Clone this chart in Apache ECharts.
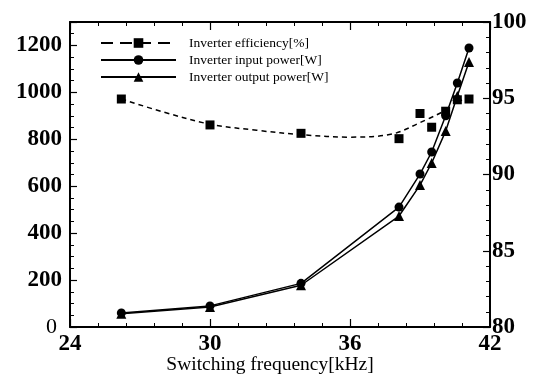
<!DOCTYPE html>
<html>
<head>
<meta charset="utf-8">
<script src="https://cdn.jsdelivr.net/npm/echarts@6/dist/echarts.min.js"></script>
<style>
  html, body { margin: 0; padding: 0; background: #fff; }
  #chart { width: 539px; height: 376px; }
</style>
</head>
<body>
<div id="chart"></div>
<script>
// switching frequency [kHz] of each measured point
const freq = [26.2, 30, 33.9, 38.1, 39, 39.5, 40.1, 40.6, 41.1];
const inputPower = [60, 90, 186, 511, 652, 746, 900, 1040, 1189];
const outputPower = [56, 85, 178, 473, 605, 699, 835, 985, 1130];
const efficiency = [94.95, 93.25, 92.7, 92.35, 94.0, 93.1, 94.15, 94.9, 94.95];

// dashed trend curve through the efficiency points
const trendFreq = [26.2, 28, 30, 32, 34, 36, 37.8, 39, 40.1];
const trendEff = [94.95, 94.1, 93.3, 92.9, 92.6, 92.45, 92.65, 93.4, 94.2];

const names = ['Inverter efficiency[%]', 'Inverter input power[W]', 'Inverter output power[W]'];

const serif = "'Liberation Serif', 'Times New Roman', serif";

const pairs = (xs, ys) => xs.map((x, i) => [x, ys[i]]);

const chart = echarts.init(document.getElementById('chart'), null, { renderer: 'canvas' });

const xAxisBase = {
  type: 'value',
  min: 24,
  max: 42,
  interval: 6,
  axisLine: { lineStyle: { color: '#000', width: 2 } },
  axisTick: { inside: true, length: 8, lineStyle: { color: '#000', width: 1.2 } },
  minorTick: { show: true, splitNumber: 5, length: 4, lineStyle: { color: '#000', width: 1 } },
  splitLine: { show: false },
};

const option = {
  animation: false,
  backgroundColor: '#fff',
  grid: { left: 70, right: 49, top: 22, bottom: 49, outerBoundsMode: 'none' },
  legend: {
    orient: 'vertical',
    left: 95,
    top: 31,
    itemWidth: 75,
    itemHeight: 12,
    itemGap: 3,
    textStyle: { fontFamily: serif, fontSize: 13.5, color: '#000', padding: [0, 0, 0, 8] },
    data: [
      { name: names[0], lineStyle: { type: [12, 7], width: 2 } },
      { name: names[1], lineStyle: { width: 2 } },
      { name: names[2], lineStyle: { width: 2 } },
    ],
  },
  xAxis: [
    Object.assign({}, xAxisBase, {
      position: 'bottom',
      name: 'Switching frequency[kHz]',
      nameLocation: 'middle',
      nameGap: 28,
      nameMoveOverlap: false,
      nameTextStyle: { fontFamily: serif, fontSize: 19.5, color: '#000', padding: [0, 20, 0, 0] },
      axisLabel: { fontFamily: serif, fontSize: 23, fontWeight: 'bold', color: '#000', margin: 6 },
    }),
    Object.assign({}, xAxisBase, {
      position: 'top',
      axisLabel: { show: false },
    }),
  ],
  yAxis: [
    {
      type: 'value',
      position: 'left',
      min: 0,
      max: 1300,
      interval: 200,
      axisLine: { show: true, lineStyle: { color: '#000', width: 2 } },
      axisTick: { inside: true, length: 7, lineStyle: { color: '#000', width: 1.2 } },
      minorTick: { show: true, splitNumber: 4, length: 4, lineStyle: { color: '#000', width: 1 } },
      splitLine: { show: false },
      axisLabel: {
        showMaxLabel: false,
        fontFamily: serif,
        fontSize: 23,
        fontWeight: 'bold',
        color: '#000',
        margin: 8,
        formatter: (v) => (v === 0 ? '{z|0}' : String(v)),
        rich: {
          z: { fontFamily: serif, fontSize: 22, fontWeight: 'normal', color: '#000', padding: [0, 5, 0, 0] },
        },
      },
    },
    {
      type: 'value',
      position: 'right',
      min: 80,
      max: 100,
      interval: 5,
      axisLine: { show: true, lineStyle: { color: '#000', width: 2 } },
      axisTick: { inside: true, length: 7, lineStyle: { color: '#000', width: 1.2 } },
      minorTick: { show: true, splitNumber: 5, length: 4, lineStyle: { color: '#000', width: 1 } },
      splitLine: { show: false },
      axisLabel: { fontFamily: serif, fontSize: 23, fontWeight: 'bold', color: '#000', margin: 2 },
    },
  ],
  series: [
    {
      name: names[0],
      type: 'line',
      yAxisIndex: 1,
      smooth: 0.35,
      symbol: 'rect',
      symbolSize: 9,
      showSymbol: false,
      color: '#000',
      lineStyle: { color: '#000', width: 1.5, type: [5, 4] },
      data: pairs(trendFreq, trendEff),
      z: 2,
    },
    {
      name: 'efficiency points',
      type: 'scatter',
      yAxisIndex: 1,
      symbol: 'rect',
      symbolSize: 9,
      itemStyle: { color: '#000', opacity: 1 },
      data: pairs(freq, efficiency),
      z: 4,
    },
    {
      name: names[1],
      type: 'line',
      symbol: 'circle',
      symbolSize: 9,
      color: '#000',
      itemStyle: { color: '#000' },
      lineStyle: { color: '#000', width: 1.5 },
      data: pairs(freq, inputPower),
      z: 3,
    },
    {
      name: names[2],
      type: 'line',
      symbol: 'triangle',
      symbolSize: 10,
      color: '#000',
      itemStyle: { color: '#000' },
      lineStyle: { color: '#000', width: 1.5 },
      data: pairs(freq, outputPower),
      z: 3,
    },
  ],
};

chart.setOption(option);
</script>
</body>
</html>
